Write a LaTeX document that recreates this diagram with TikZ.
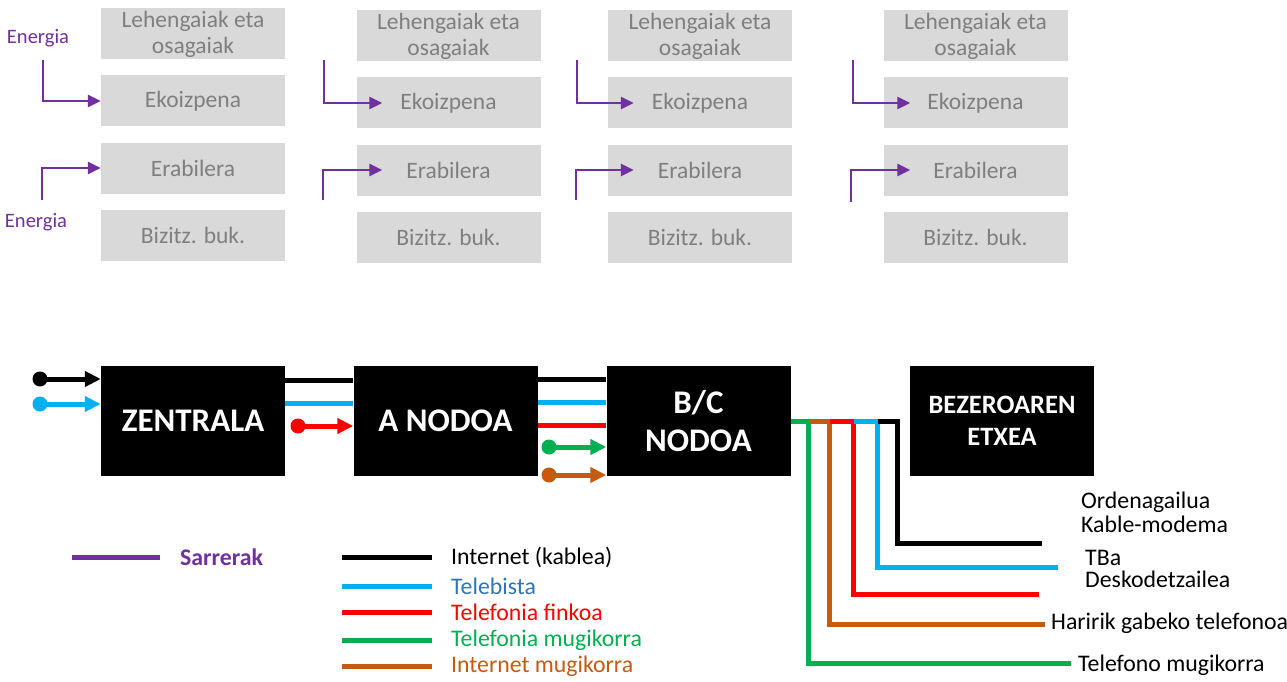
\documentclass[tikz,border=0pt]{standalone}
\usepackage{fontspec}
\setmainfont{Carlito}
\usetikzlibrary{arrows.meta,calc}
\definecolor{ppl}{HTML}{7030A0}
\definecolor{gbox}{HTML}{D9D9D9}
\definecolor{gtxt}{HTML}{7F7F7F}
\definecolor{lblue}{HTML}{00B0F0}
\definecolor{tblue}{HTML}{2E75B6}
\definecolor{lred}{HTML}{FF0000}
\definecolor{lgreen}{HTML}{00B050}
\definecolor{lorange}{HTML}{C55A11}
\begin{document}
\begin{tikzpicture}[x=1pt,y=-1pt,
  gb/.style={fill=gbox, text=gtxt, minimum width=184pt, minimum height=51pt, inner sep=0pt, align=center, font=\fontsize{23.5}{26}\selectfont},
  bb/.style={fill=black, text=white, minimum width=184pt, minimum height=110pt, inner sep=0pt, align=center, font=\fontsize{33}{38}\selectfont\bfseries},
  en/.style={text=ppl, inner sep=0pt, font=\fontsize{20.5}{22}\selectfont},
  parrow/.style={draw=ppl, line width=2.5pt, -{Triangle[length=13pt,width=12pt]}},
  wire/.style={line width=5pt},
  carrow/.style={line width=5pt, -{Triangle[length=16pt,width=15pt]}},
  dotn/.style={circle, inner sep=0pt, minimum size=15pt},
  lbl/.style={inner sep=0pt, anchor=west, align=left, font=\fontsize{23.8}{24}\selectfont},
  leg/.style={inner sep=0pt, anchor=west, font=\fontsize{23.8}{26}\selectfont}
]
\useasboundingbox (0,0) rectangle (1287,682);

% ---------- top gray columns ----------
\node[gb] (l1) at (193,34) {Lehengaiak eta\\osagaiak};
\node[gb] (k1) at (193,101) {Ekoizpena};
\node[gb] (u1) at (193,168) {Erabilera};
\node[gb] (b1) at (193,235) {Bizitz. buk.};

\node[gb] (l2) at (448.5,36) {Lehengaiak eta\\osagaiak};
\node[gb] (k2) at (448.5,103) {Ekoizpena};
\node[gb] (u2) at (448.5,170) {Erabilera};
\node[gb] (b2) at (448.5,237) {Bizitz. buk.};

\node[gb] (l3) at (700,36) {Lehengaiak eta\\osagaiak};
\node[gb] (k3) at (700,103) {Ekoizpena};
\node[gb] (u3) at (700,170) {Erabilera};
\node[gb] (b3) at (700,237) {Bizitz. buk.};

\node[gb] (l4) at (975.5,36) {Lehengaiak eta\\osagaiak};
\node[gb] (k4) at (975.5,103) {Ekoizpena};
\node[gb] (u4) at (975.5,170) {Erabilera};
\node[gb] (b4) at (975.5,237) {Bizitz. buk.};

\node[en] (en1) at (38,38) {Energia};
\node[en] (en2) at (36,222) {Energia};

\coordinate (p1) at (43,60);
\coordinate (q1) at (42,200);
\coordinate (p2) at (324,60);
\coordinate (q2) at (323,200);
\coordinate (p3) at (577,60);
\coordinate (q3) at (576,200);
\coordinate (p4) at (853,60);
\coordinate (q4) at (851,202);

\draw[parrow] (p1) |- (k1.west);
\draw[parrow] (q1) |- (u1.west);
\draw[parrow] (p2) |- ([xshift=26pt]k2.west);
\draw[parrow] (q2) |- ([xshift=26pt]u2.west);
\draw[parrow] (p3) |- ([xshift=26pt]k3.west);
\draw[parrow] (q3) |- ([xshift=26pt]u3.west);
\draw[parrow] (p4) |- ([xshift=27pt]k4.west);
\draw[parrow] (q4) |- ([xshift=27pt]u4.west);

% ---------- network boxes ----------
\node[bb] (z) at (193,421) {ZENTRALA};
\node[bb] (a) at (445.5,421) {A NODOA};
\node[bb] (bc) at (698.5,421) {B/C\\NODOA};
\node[bb, font=\fontsize{26.5}{32}\selectfont\bfseries] (h) at (1002,421) {BEZEROAREN\\ETXEA};

% input arrows
\node[dotn, fill=black] (d1) at (40,379) {};
\node[dotn, fill=lblue] (d2) at (40,404) {};
\node[dotn, fill=lred] (d3) at (298,426) {};
\node[dotn, fill=lgreen] (d4) at (549,447) {};
\node[dotn, fill=lorange] (d5) at (549,475) {};
\draw[carrow, black] (d1.center) -- (d1.center -| z.west);
\draw[carrow, lblue] (d2.center) -- (d2.center -| z.west);
\draw[carrow, lred] (d3.center) -- (d3.center -| a.west);
\draw[carrow, lgreen] (d4.center) -- (d4.center -| bc.west);
\draw[carrow, lorange] (d5.center) -- (d5.center -| bc.west);

% links between boxes
\draw[wire, black] ($(z.north east)+(0,15)$) -- ($(a.north west)+(0,15)$);
\draw[wire, lblue] ($(z.north east)+(0,38)$) -- ($(a.north west)+(0,38)$);
\draw[wire, black] ($(a.north east)+(0,14)$) -- ($(bc.north west)+(0,14)$);
\draw[wire, lblue] ($(a.north east)+(0,37)$) -- ($(bc.north west)+(0,37)$);
\draw[wire, lred] ($(a.north east)+(0,60)$) -- ($(bc.north west)+(0,60)$);

% distribution to the customer
\coordinate (kEnd) at (1042,543);
\coordinate (bEnd) at (1058,567);
\coordinate (rEnd) at (1039,594);
\coordinate (oEnd) at (1045,624);
\coordinate (gEnd) at (1071,663);
\draw[wire, lgreen] (bc.east) -- ++(18,0) |- (gEnd);
\draw[wire, lorange] ([xshift=18pt]bc.east) -- ++(21,0) |- (oEnd);
\draw[wire, lred] ([xshift=39pt]bc.east) -- ++(24,0) |- (rEnd);
\draw[wire, lblue] ([xshift=63pt]bc.east) -- ++(24,0) |- (bEnd);
\draw[wire, black] ([xshift=87pt]bc.east) -- ++(20,0) |- (kEnd);

\node[lbl] (t1) at (1081,512) {Ordenagailua\\Kable-modema};
\node[lbl, font=\fontsize{23.8}{22}\selectfont] (t2) at (1085,569) {TBa\\Deskodetzailea};
\node[lbl] (t3) at (1051,623) {Haririk gabeko telefonoa};
\node[lbl] (t4) at (1078,665) {Telefono mugikorra};

% ---------- legend ----------
\coordinate (s1) at (72,557);
\coordinate (s2) at (160,557);
\draw[wire, ppl] (s1) -- (s2);
\node[leg, text=ppl, font=\fontsize{23.8}{26}\selectfont\bfseries] (sar) at (180,557) {Sarrerak};

\coordinate (c1a) at (342,557); \coordinate (c1b) at (432,557);
\coordinate (c2a) at (342,586); \coordinate (c2b) at (432,586);
\coordinate (c3a) at (342,612); \coordinate (c3b) at (432,612);
\coordinate (c4a) at (342,640); \coordinate (c4b) at (432,640);
\coordinate (c5a) at (342,666); \coordinate (c5b) at (432,666);
\draw[wire, black] (c1a) -- (c1b);
\draw[wire, lblue] (c2a) -- (c2b);
\draw[wire, lred] (c3a) -- (c3b);
\draw[wire, lgreen] (c4a) -- (c4b);
\draw[wire, lorange] (c5a) -- (c5b);
\node[leg, text=black] (g1) at (451,557) {Internet (kablea)};
\node[leg, text=tblue] (g2) at (451,586) {Telebista};
\node[leg, text=lred] (g3) at (451,612) {Telefonia finkoa};
\node[leg, text=lgreen] (g4) at (451,640) {Telefonia mugikorra};
\node[leg, text=lorange] (g5) at (451,666) {Internet mugikorra};
\end{tikzpicture}
\end{document}
